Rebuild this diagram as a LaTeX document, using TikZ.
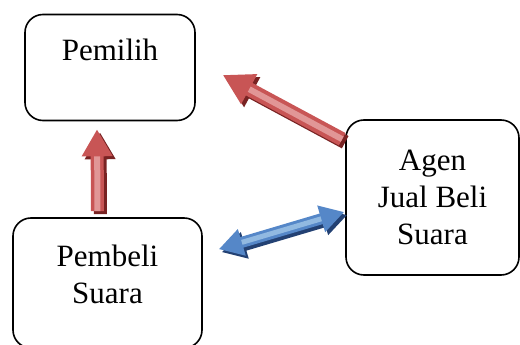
\documentclass[tikz,border=0pt]{standalone}
\usepackage{fontspec}
\setmainfont{Liberation Serif}
\usetikzlibrary{arrows.meta}

\definecolor{merah}{RGB}{200,85,85}
\definecolor{merahmuda}{RGB}{225,150,150}
\definecolor{merahgelap}{RGB}{120,35,35}
\definecolor{biru}{RGB}{85,135,200}
\definecolor{birumuda}{RGB}{145,185,225}
\definecolor{birugelap}{RGB}{35,65,115}

\tikzset{
  kotak/.style={draw, line width=1.6pt, rounded corners=18pt, align=center,
    font=\fontsize{31}{37}\selectfont, inner sep=0pt},
  bayang/.style={transform canvas={shift={(3,3)}}},
}

\begin{document}
\begin{tikzpicture}[x=1pt,y=-1pt]
  \useasboundingbox (0,0) rectangle (520,345);
  \clip (0,0) rectangle (520,345);

  % kotak-kotak
  \node[kotak, minimum width=170pt, minimum height=106pt, text depth=36pt]
    (pemilih) at (110,67.5) {Pemilih};
  \node[kotak, minimum width=189pt, minimum height=130pt, text depth=17pt]
    (pembeli) at (107.5,283) {Pembeli\\Suara};
  \node[kotak, minimum width=173pt, minimum height=155pt]
    (agen) at (432.5,197.5) {Agen\\Jual Beli\\Suara};

  % titik ujung panah
  \coordinate (naik1) at ([xshift=-10pt,yshift=6pt]pembeli.north);
  \coordinate (naik2) at ([xshift=-13pt,yshift=-8pt]pemilih.south);
  \coordinate (serong1) at ([xshift=-3pt,yshift=-20pt]agen.north west);
  \coordinate (serong2) at ([xshift=27pt,yshift=-7.5pt]pemilih.east);
  \coordinate (dua1) at ([xshift=16pt,yshift=-32pt]pembeli.north east);
  \coordinate (dua2) at ([xshift=-1pt,yshift=-14.5pt]agen.west);

  % Pembeli -> Pemilih
  \draw[bayang, merahgelap, line width=13pt, -{Triangle[width=29pt,length=27pt]}] (naik1) -- (naik2);
  \draw[merah, line width=13pt, -{Triangle[width=29pt,length=27pt]}] (naik1) -- (naik2);
  \draw[merahmuda, line width=6pt, shorten >=27pt] (naik1) -- (naik2);

  % Agen -> Pemilih
  \draw[bayang, merahgelap, line width=14pt, -{Triangle[width=32pt,length=30pt]}] (serong1) -- (serong2);
  \draw[merah, line width=14pt, -{Triangle[width=32pt,length=30pt]}] (serong1) -- (serong2);
  \draw[merahmuda, line width=6pt, shorten >=30pt] (serong1) -- (serong2);

  % Pembeli <-> Agen
  \draw[bayang, birugelap, line width=11pt, {Triangle[width=26pt,length=24pt]}-{Triangle[width=26pt,length=24pt]}] (dua1) -- (dua2);
  \draw[biru, line width=11pt, {Triangle[width=26pt,length=24pt]}-{Triangle[width=26pt,length=24pt]}] (dua1) -- (dua2);
  \draw[birumuda, line width=5pt, shorten >=24pt, shorten <=24pt] (dua1) -- (dua2);
\end{tikzpicture}
\end{document}
